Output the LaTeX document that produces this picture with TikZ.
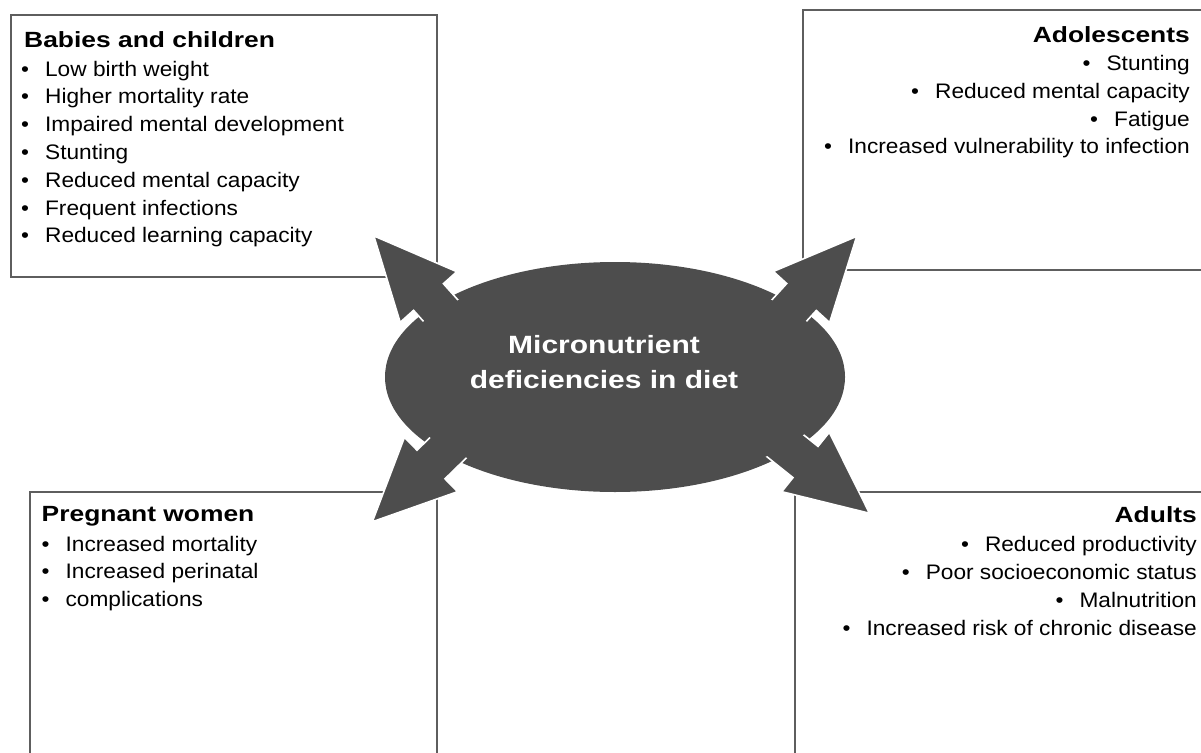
\documentclass[tikz,border=0pt]{standalone}
\usepackage{fontspec}
\setmainfont{Liberation Sans}[FakeStretch=1.08]
\newfontfamily\headfont{Liberation Sans}[FakeStretch=1.2]
\usetikzlibrary{shapes.geometric}
\definecolor{blobgray}{HTML}{4D4D4D}
\definecolor{framegray}{HTML}{5E5E5E}
\newcommand{\bul}{\textbullet\hspace{16pt}}
\newcommand{\grouphead}[1]{{\headfont\bfseries\fontsize{22}{27.8}\selectfont #1}}
\tikzset{
  panel/.style={draw=framegray, line width=2.2pt, anchor=north west, inner sep=0pt, outer sep=0pt},
  listtext/.style={inner sep=0pt, font=\fontsize{21}{27.8}\selectfont},
  blockarrow/.style={fill=blobgray, draw=white, line width=1.6pt}
}
\begin{document}
\begin{tikzpicture}[x=1pt,y=-1pt]
  \clip (0,0) rectangle (1201,752);
  \fill[white] (0,0) rectangle (1201,752);
  % the four groups
  \node[panel, minimum width=426pt, minimum height=262pt] (babies) at (11,15) {};
  \node[panel, minimum width=420pt, minimum height=260pt] (teens) at (803,10) {};
  \node[panel, minimum width=407pt, minimum height=290pt] (pregnant) at (30,492) {};
  \node[panel, minimum width=430pt, minimum height=290pt] (adults) at (795,492) {};
  % centre and the arrows out of it
  \node[ellipse, fill=blobgray, inner sep=0pt, minimum width=460pt, minimum height=230pt] (diet) at (615,377) {};
  \foreach \bx/\by/\ang in {428.5/297/131.8, 801.5/297/47.7, 431/464.5/224.3, 805.5/462/-38.7}
    \draw[blockarrow, shift={(\bx,\by)}, rotate=\ang]
      (-50,-20) -- (0,-20) -- (0,-38) -- (82,0) -- (0,38) -- (0,20) -- (-50,20) -- cycle;
  \fill[blobgray] (diet.center) ellipse [x radius=223pt, y radius=108pt];
  \node[anchor=north, inner sep=0pt, align=center, text=white,
        font=\headfont\bfseries\fontsize{25}{35}\selectfont] (dietlabel) at (604,335)
    {Micronutrient\\deficiencies in diet};
  % texts
  \node[listtext, anchor=north west, align=left] (babieslist) at (21,31)
    {\hspace*{3pt}\grouphead{Babies and children}\\[1.2pt]
     \bul Low birth weight\\
     \bul Higher mortality rate\\
     \bul Impaired mental development\\
     \bul Stunting\\
     \bul Reduced mental capacity\\
     \bul Frequent infections\\
     \bul Reduced learning capacity};
  \node[listtext, anchor=north east, align=right] (teenslist) at (1190,26)
    {\grouphead{Adolescents}\\[0.5pt]
     \bul Stunting\\
     \bul Reduced mental capacity\\
     \bul Fatigue\\
     \bul Increased vulnerability to infection};
  \node[listtext, anchor=north west, align=left] (pregnantlist) at (41.5,506)
    {\grouphead{Pregnant women}\\[2pt]
     \bul Increased mortality\\
     \bul Increased perinatal\\
     \bul complications};
  \node[listtext, anchor=north east, align=right] (adultslist) at (1197,506)
    {\grouphead{Adults}\\[2pt]
     \bul Reduced productivity\\
     \bul Poor socioeconomic status\\
     \bul Malnutrition\\
     \bul Increased risk of chronic disease};
\end{tikzpicture}
\end{document}
